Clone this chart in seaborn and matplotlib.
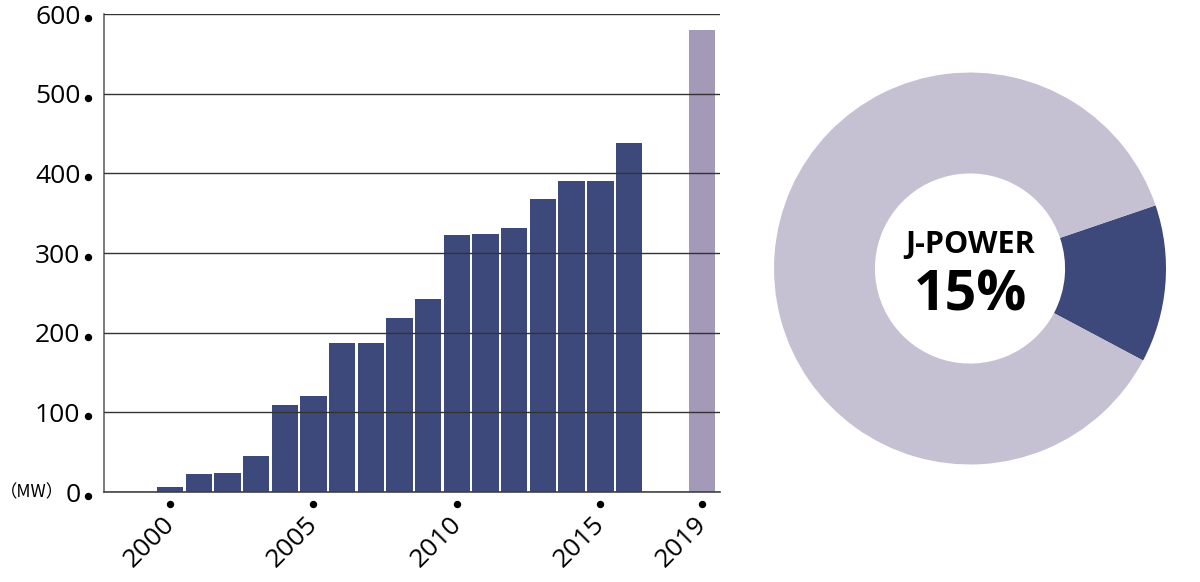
import numpy as np
import pandas as pd
import seaborn as sns
import matplotlib.pyplot as plt
from matplotlib.transforms import offset_copy, ScaledTranslation

# DATA

years = [2000, 2001, 2002, 2003, 2004, 2005, 2006, 2007, 2008,
         2009, 2010, 2011, 2012, 2013, 2014, 2015, 2016, 2019]
capacity_mw = [6, 23, 24, 45, 109, 120, 187, 187, 218,
               242, 323, 324, 332, 368, 390, 390, 438, 580]
status = ["actual"] * 17 + ["plan"]

y_ticks = [0, 100, 200, 300, 400, 500, 600]
x_tick_years = [2000, 2005, 2010, 2015, 2019]

share_labels = ["J-POWER", "Others"]
share_values = [13, 87]
share_text = "15%"
unit_text = "（MW）"

# STYLE

NAVY = "#3d497a"
PLAN = "#a39ab7"
LIGHT = "#c6c0d3"
COLORS = {"actual": NAVY, "plan": PLAN}

sns.set_theme(style="white")
plt.rcParams["font.family"] = ["Open Sans", "Noto Sans CJK JP", "DejaVu Sans"]
plt.rcParams["text.color"] = "black"
plt.rcParams["xtick.color"] = "black"
plt.rcParams["ytick.color"] = "black"

# the 2019 bar sits closer to 2016 than its real year would put it
GAP_SHIFT = 0.45


def bar_pos(y):
    return y - GAP_SHIFT if y > 2016 else y


df = pd.DataFrame({
    "pos": [bar_pos(y) for y in years],
    "mw": capacity_mw,
    "status": status,
})

fig = plt.figure(figsize=(12, 5.82), dpi=100)

# BAR CHART

ax = fig.add_axes([0.0867, 0.1546, 0.5133, 0.8213])

sns.barplot(data=df, x="pos", y="mw", hue="status", palette=COLORS,
            native_scale=True, dodge=False, width=0.92, saturation=1,
            linewidth=0, legend=False, ax=ax)

ax.set_xlim(1997.7, 2019.17)
ax.set_ylim(0, 600)
ax.set_xlabel("")
ax.set_ylabel("")

ax.set_yticks(y_ticks)
ax.set_yticklabels([str(v) for v in y_ticks], fontsize=19, color="black")
x_tick_pos = [bar_pos(y) for y in x_tick_years]
ax.set_xticks(x_tick_pos)
ax.set_xticklabels([str(y) for y in x_tick_years], fontsize=19, color="black",
                   rotation=45, ha="right", va="top", rotation_mode="anchor")
ax.tick_params(axis="y", length=0, pad=17)
ax.tick_params(axis="x", length=0, pad=14)

# nudge the rotated year labels a little to the left
shift = ScaledTranslation(-8 / 100, 0, fig.dpi_scale_trans)
for lab in ax.get_xticklabels():
    lab.set_transform(lab.get_transform() + shift)

ax.grid(axis="y", color="#333333", linewidth=1.0)
ax.grid(axis="x", visible=False)
ax.set_axisbelow(False)

for side in ["top", "right"]:
    ax.spines[side].set_visible(False)
ax.spines["left"].set_color("#666666")
ax.spines["left"].set_linewidth(1.2)
ax.spines["bottom"].set_color("#444444")
ax.spines["bottom"].set_linewidth(1.2)

# dot markers next to every tick
ytrans = offset_copy(ax.get_yaxis_transform(), fig=fig, x=-16, y=-4, units="dots")
ax.plot(np.zeros(len(y_ticks)), y_ticks, "o", ms=4.3, color="black",
        transform=ytrans, clip_on=False)
xtrans = offset_copy(ax.get_xaxis_transform(), fig=fig, y=-11.5, units="dots")
ax.plot(x_tick_pos, np.zeros(len(x_tick_pos)), "o", ms=4.3, color="black",
        transform=xtrans, clip_on=False)

fig.text(0.0, 0.1546, unit_text, fontsize=12.5, ha="left", va="center",
         family=["Noto Sans CJK JP", "DejaVu Sans"])

# DONUT

ax2 = fig.add_axes([0.6042, 0.1177, 0.4083, 0.8419])
ax2.pie(share_values, colors=[NAVY, LIGHT], startangle=18.8,
        counterclock=False, radius=1.0,
        wedgeprops=dict(width=0.515, linewidth=0))
ax2.set_xlim(-1.25, 1.25)
ax2.set_ylim(-1.25, 1.25)
ax2.set_aspect("equal")
ax2.text(0, 0.12, share_labels[0], ha="center", va="center",
         fontsize=22, fontweight="bold", color="black")
ax2.text(0, -0.14, share_text, ha="center", va="center",
         fontsize=40, fontweight="bold", color="black")

fig.savefig("out.png", dpi=100)
